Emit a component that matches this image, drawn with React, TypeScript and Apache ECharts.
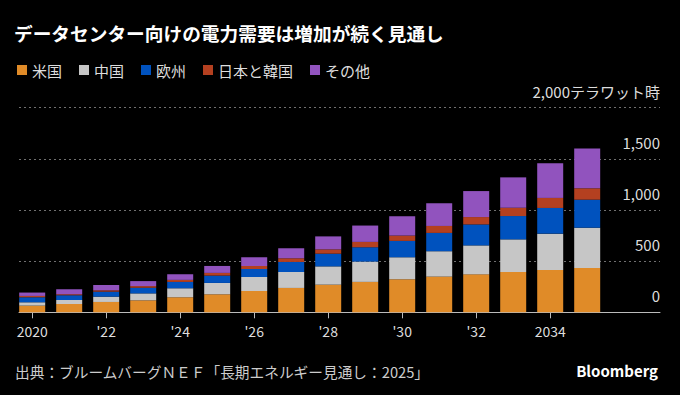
import React, { useEffect, useRef } from "react";
import * as echarts from "echarts";

const years = ["2020","2021","2022","2023","2024","2025","2026","2027","2028","2029","2030","2031","2032","2033","2034","2035"];
const seriesNames = ["米国", "中国", "欧州", "日本と韓国", "その他"];
const usValues = [65, 81, 101, 117, 147, 176, 209, 238, 270, 297, 323, 349, 371, 394, 414, 433];
const chinaValues = [33, 39, 52, 68, 88, 111, 137, 156, 179, 199, 215, 248, 283, 319, 355, 394];
const europeValues = [49, 47, 49, 55, 62, 72, 78, 98, 124, 140, 160, 179, 205, 228, 251, 274];
const japanKoreaValues = [13, 10, 13, 16, 20, 26, 29, 36, 42, 52, 52, 68, 72, 81, 98, 111];
const otherValues = [33, 49, 52, 49, 55, 68, 85, 98, 127, 160, 189, 222, 254, 297, 339, 388];
const colors = ["#E08B28", "#C6C6C6", "#0052BE", "#B44020", "#9153BE"];
const yTicks = [0, 500, 1000, 1500, 2000];

const FONT = '"Noto Sans CJK JP", "Noto Sans", sans-serif';

function xLabel(v: string): string {
  if (v === "2020" || v === "2034") return v;
  return "'" + v.slice(2);
}

export default function App() {
  const ref = useRef<HTMLDivElement>(null);
  useEffect(() => {
    document.body.style.margin = "0";
    document.body.style.background = "#000";
    if (!ref.current) return;
    const chart = echarts.init(ref.current, null, { renderer: "svg" });
    const allValues = [usValues, chinaValues, europeValues, japanKoreaValues, otherValues];
    const option = {
      animation: false,
      backgroundColor: "#000",
      textStyle: { fontFamily: FONT },
      title: {
        text: "データセンター向けの電力需要は増加が続く見通し",
        left: 14,
        top: 23,
        padding: 0,
        textStyle: { color: "#fff", fontSize: 18.7, fontWeight: "bold", fontFamily: FONT },
      },
      legend: {
        data: seriesNames,
        left: 17,
        top: 62.5,
        padding: 0,
        icon: "rect",
        itemWidth: 10,
        itemHeight: 10,
        itemGap: 17,
        textStyle: { color: "#dddddd", fontSize: 15, fontFamily: FONT },
      },
      grid: [
        { left: 13.7, right: 74.3, top: 107.7, bottom: 82.7 },
        { left: 19, right: 20, top: 107.7, bottom: 82.7 },
      ],
      xAxis: [
        {
          type: "category",
          gridIndex: 0,
          data: years,
          axisLine: { show: false },
          axisTick: { show: true, alignWithLabel: true, interval: 1, length: 6, lineStyle: { color: "#bbbbbb" } },
          axisLabel: { interval: 1, color: "#dddddd", fontSize: 14, margin: 12, formatter: xLabel, fontFamily: FONT },
          splitLine: { show: false },
        },
        {
          type: "value",
          gridIndex: 1,
          min: 0,
          max: 1,
          axisLine: { show: true, onZero: false, lineStyle: { color: "#bbbbbb", width: 1 } },
          axisTick: { show: false },
          axisLabel: { show: false },
          splitLine: { show: false },
        },
      ],
      yAxis: [
        { type: "value", gridIndex: 0, min: 0, max: 2000, show: false },
        {
          type: "value",
          gridIndex: 1,
          min: 0,
          max: 2000,
          interval: 500,
          position: "right",
          axisLine: { show: false },
          axisTick: { show: false },
          splitLine: { show: true, lineStyle: { color: "#707070", type: [2, 3], width: 1 } },
          axisLabel: {
            inside: true,
            margin: 0,
            align: "right",
            verticalAlign: "bottom",
            padding: [0, 0, 9, 0],
            color: "#dddddd",
            fontSize: 15,
            fontFamily: FONT,
            formatter: (v: number) => {
              if (!yTicks.includes(v)) return "";
              const s = v.toLocaleString("en-US");
              return v === 2000 ? s + "テラワット時" : s;
            },
          },
        },
      ],
      series: seriesNames.map((name, i) => ({
        name,
        type: "bar",
        stack: "total",
        xAxisIndex: 0,
        yAxisIndex: 0,
        barWidth: 26,
        data: allValues[i],
        itemStyle: { color: colors[i] },
      })),
      graphic: [
        {
          type: "text",
          left: 15,
          top: 364,
          style: {
            text: "出典：ブルームバーグＮＥＦ「長期エネルギー見通し：2025」",
            fill: "#cccccc",
            fontSize: 14.7,
            fontFamily: FONT,
          },
        },
        {
          type: "text",
          right: 22,
          top: 363,
          style: {
            text: "Bloomberg",
            fill: "#ffffff",
            fontSize: 15,
            fontWeight: "bold",
            fontFamily: FONT,
          },
        },
      ],
    };
    chart.setOption(option as any);
    return () => chart.dispose();
  }, []);
  return <div ref={ref} style={{ width: 680, height: 395 }} />;
}
